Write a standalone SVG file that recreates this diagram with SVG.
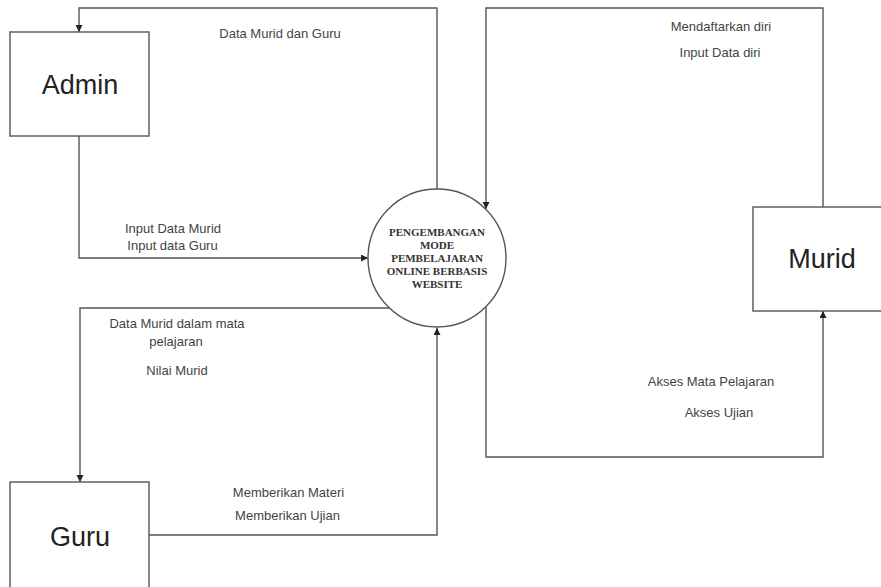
<svg xmlns="http://www.w3.org/2000/svg" width="881" height="587" viewBox="0 0 881 587">
<defs>
<marker id="arr" markerUnits="userSpaceOnUse" markerWidth="8" markerHeight="8" refX="7" refY="3.5" orient="auto">
<path d="M0,0 L7,3.5 L0,7 z" fill="#222"/>
</marker>
<style>
.box{fill:#fff;stroke:#555;stroke-width:1.4}
.conn{fill:none;stroke:#555;stroke-width:1.4;marker-end:url(#arr)}
.lbl{font-family:"Liberation Sans",Arial,sans-serif;font-size:13px;fill:#444;text-anchor:middle}
.node{font-family:"Liberation Sans",Arial,sans-serif;font-size:27px;fill:#222;text-anchor:middle}
.proc{font-family:"Liberation Serif","Times New Roman",serif;font-size:11px;font-weight:bold;fill:#333;text-anchor:middle}
</style>
</defs>
<rect width="881" height="587" fill="#fff"/>
<g id="connectors">
<path class="conn" d="M437,189 V8 H79 V32"/>
<path class="conn" d="M79,136 V258 H368"/>
<path class="conn" d="M823,207 V8 H486 V209"/>
<path class="conn" d="M486,307 V457 H823 V311"/>
<path class="conn" d="M390,308 H80 V482"/>
<path class="conn" d="M149,535 H437 V328"/>
</g>
<g id="labels">
<text class="lbl" x="280" y="37.5">Data Murid dan Guru</text>
<text class="lbl" x="173" y="232.5">Input Data Murid</text>
<text class="lbl" x="172.5" y="249.5">Input data Guru</text>
<text class="lbl" x="721" y="30.5">Mendaftarkan diri</text>
<text class="lbl" x="720" y="56.5">Input Data diri</text>
<text class="lbl" x="177" y="327.5">Data Murid dalam mata</text>
<text class="lbl" x="176" y="345.5">pelajaran</text>
<text class="lbl" x="177" y="374.5">Nilai Murid</text>
<text class="lbl" x="288.5" y="496.5">Memberikan Materi</text>
<text class="lbl" x="287.5" y="519.5">Memberikan Ujian</text>
<text class="lbl" x="711" y="385.5">Akses Mata Pelajaran</text>
<text class="lbl" x="719" y="416.5">Akses Ujian</text>
</g>
<g id="admin">
<rect class="box" x="10" y="32" width="139" height="104"/>
<text class="node" x="80" y="93.5">Admin</text>
</g>
<g id="murid">
<rect class="box" x="753" y="207" width="140" height="104"/>
<text class="node" x="822" y="267.5">Murid</text>
</g>
<g id="guru">
<rect class="box" x="10" y="482" width="139" height="110"/>
<text class="node" x="80" y="545.5">Guru</text>
</g>
<g id="process">
<circle cx="437" cy="258" r="69" fill="#fff" stroke="#555" stroke-width="1.4"/>
<text class="proc" x="437" y="236">PENGEMBANGAN</text>
<text class="proc" x="437" y="248.5">MODE</text>
<text class="proc" x="437" y="261.5">PEMBELAJARAN</text>
<text class="proc" x="437" y="274.5">ONLINE BERBASIS</text>
<text class="proc" x="437" y="287.5">WEBSITE</text>
</g>
</svg>
